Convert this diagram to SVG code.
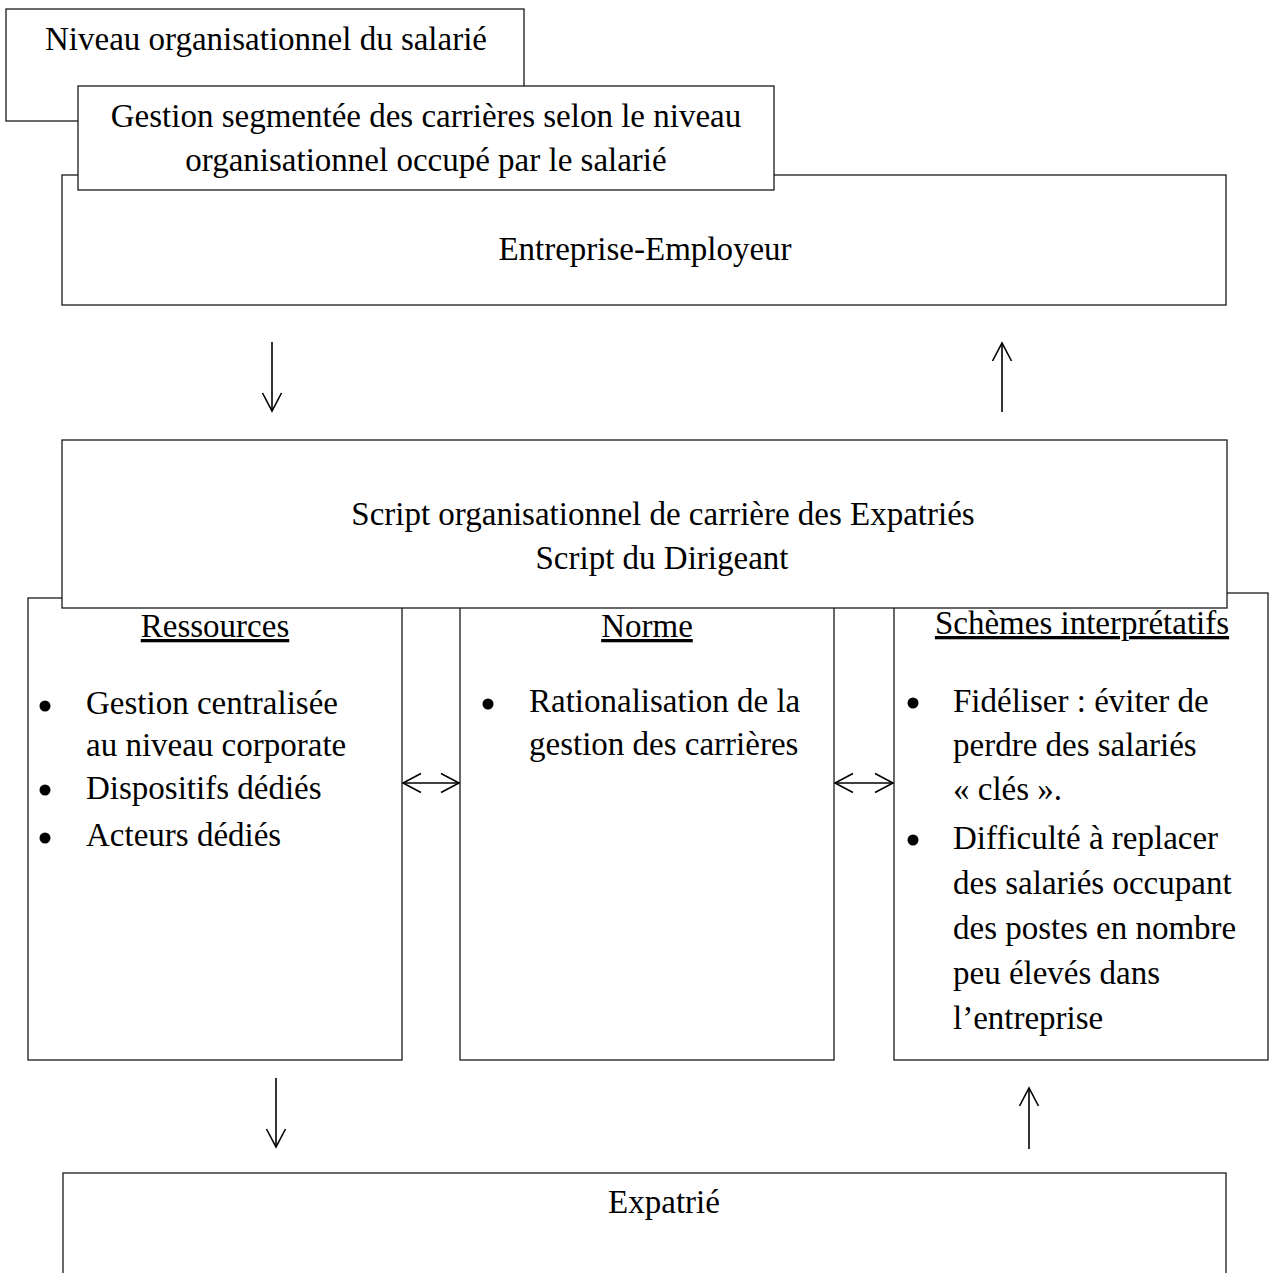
<svg xmlns="http://www.w3.org/2000/svg" width="1269" height="1273" viewBox="0 0 1269 1273">
  <defs>
    <style>
      .box { fill: #ffffff; stroke: #1a1a1a; stroke-width: 1.3; }
      .t { font-family: "Liberation Serif", "Times New Roman", serif; font-size: 33px; fill: #000000; }
      .c { text-anchor: middle; }
      .u { text-decoration: underline; }
      .bul { fill: #000000; }
      .conn { stroke: #000000; stroke-width: 1.6; fill: none; }
    </style>
    <marker id="arr" viewBox="0 0 22 22" refX="20" refY="11" markerWidth="22" markerHeight="22" markerUnits="userSpaceOnUse" orient="auto-start-reverse">
      <path d="M2,1.5 L20,11 L2,20.5" fill="none" stroke="#000000" stroke-width="1.6"/>
    </marker>
  </defs>

  <g id="node-niveau">
    <rect class="box" x="6" y="9" width="518" height="112"/>
    <text class="t c" x="266" y="50">Niveau organisationnel du salarié</text>
  </g>

  <g id="node-entreprise">
    <rect class="box" x="62" y="175" width="1164" height="130"/>
    <text class="t c" x="645" y="260">Entreprise-Employeur</text>
  </g>

  <g id="node-gestion">
    <rect class="box" x="78" y="86" width="696" height="104"/>
    <text class="t c" x="426" y="127">Gestion segmentée des carrières selon le niveau</text>
    <text class="t c" x="426" y="171">organisationnel occupé par le salarié</text>
  </g>

  <g id="node-ressources">
    <rect class="box" x="28" y="598" width="374" height="462"/>
    <text class="t c u" x="215" y="637">Ressources</text>
    <circle class="bul" cx="45" cy="706" r="5.5"/>
    <text class="t" x="86" y="714">Gestion centralisée</text>
    <text class="t" x="86" y="756">au niveau corporate</text>
    <circle class="bul" cx="45" cy="790" r="5.5"/>
    <text class="t" x="86" y="799">Dispositifs dédiés</text>
    <circle class="bul" cx="45" cy="838" r="5.5"/>
    <text class="t" x="86" y="846">Acteurs dédiés</text>
  </g>

  <g id="node-norme">
    <rect class="box" x="460" y="598" width="374" height="462"/>
    <text class="t c u" x="647" y="637">Norme</text>
    <circle class="bul" cx="488" cy="704" r="5.5"/>
    <text class="t" x="529" y="712">Rationalisation de la</text>
    <text class="t" x="529" y="755">gestion des carrières</text>
  </g>

  <g id="node-schemes">
    <rect class="box" x="894" y="593" width="374" height="467"/>
    <text class="t c u" x="1082" y="634">Schèmes interprétatifs</text>
    <circle class="bul" cx="913" cy="703" r="5.5"/>
    <text class="t" x="953" y="712">Fidéliser : éviter de</text>
    <text class="t" x="953" y="756">perdre des salariés</text>
    <text class="t" x="953" y="800">« clés ».</text>
    <circle class="bul" cx="913" cy="840" r="5.5"/>
    <text class="t" x="953" y="849">Difficulté à replacer</text>
    <text class="t" x="953" y="894">des salariés occupant</text>
    <text class="t" x="953" y="939">des postes en nombre</text>
    <text class="t" x="953" y="984">peu élevés dans</text>
    <text class="t" x="953" y="1029">l’entreprise</text>
  </g>

  <g id="node-script">
    <rect class="box" x="62" y="440" width="1165" height="168"/>
    <text class="t c" x="663" y="525">Script organisationnel de carrière des Expatriés</text>
    <text class="t c" x="662" y="569">Script du Dirigeant</text>
  </g>

  <g id="node-expatrie">
    <rect class="box" x="63" y="1173" width="1163" height="130"/>
    <text class="t c" x="664" y="1213">Expatrié</text>
  </g>

  <g id="connectors">
    <line class="conn" x1="272" y1="342" x2="272" y2="411" marker-end="url(#arr)"/>
    <line class="conn" x1="1002" y1="412" x2="1002" y2="343" marker-end="url(#arr)"/>
    <line class="conn" x1="403" y1="783" x2="459" y2="783" marker-start="url(#arr)" marker-end="url(#arr)"/>
    <line class="conn" x1="835" y1="783" x2="893" y2="783" marker-start="url(#arr)" marker-end="url(#arr)"/>
    <line class="conn" x1="276" y1="1078" x2="276" y2="1147" marker-end="url(#arr)"/>
    <line class="conn" x1="1029" y1="1149" x2="1029" y2="1088" marker-end="url(#arr)"/>
  </g>
</svg>
